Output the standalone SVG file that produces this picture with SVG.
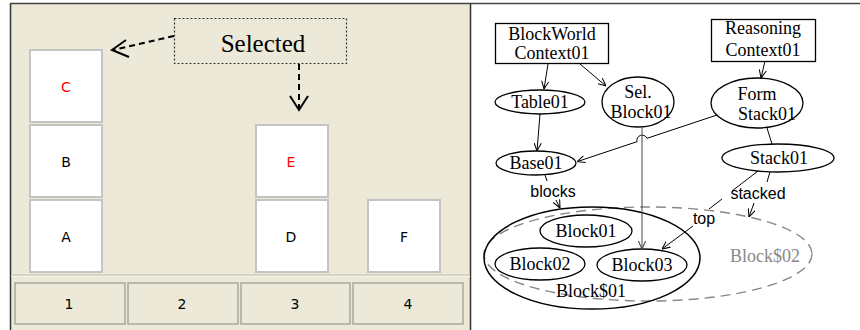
<svg xmlns="http://www.w3.org/2000/svg" width="860" height="330" viewBox="0 0 860 330">
<style>
.blk{fill:#fff;stroke:#c4c4c4;stroke-width:2}
.bl{font-family:"DejaVu Sans",sans-serif;font-size:14px;text-anchor:middle}
.btn{fill:#ECE9D8;stroke:#a8a8a0;stroke-width:1.5}
.nd{fill:#fff;stroke:#000;stroke-width:1.3}
.t{font-family:"Liberation Serif",serif;font-size:18px;text-anchor:middle;fill:#000}
.lab{font-family:"Liberation Sans",sans-serif;font-size:16px;text-anchor:middle;fill:#000}
.e{fill:none;stroke:#000;stroke-width:1}
.sel{fill:none;stroke:#000;stroke-width:2;stroke-dasharray:6,4}
</style>
<defs>
<marker id="ah" viewBox="0 0 10 10" refX="10" refY="5" markerWidth="8" markerHeight="8" orient="auto" markerUnits="userSpaceOnUse">
<path d="M0,0.5 L10,5 L0,9.5" fill="none" stroke="#000" stroke-width="1.3"/>
</marker>
<marker id="ahg" viewBox="0 0 10 10" refX="10" refY="5" markerWidth="8" markerHeight="8" orient="auto" markerUnits="userSpaceOnUse">
<path d="M0,0.5 L10,5 L0,9.5" fill="none" stroke="#444" stroke-width="1.3"/>
</marker>
</defs>

<!-- Left panel -->
<g id="left-panel">
<rect x="10" y="3" width="460" height="327" fill="#ECE9D8"/>
<line x1="10.5" y1="3" x2="10.5" y2="330" stroke="#333" stroke-width="1.5"/>
<line x1="470.5" y1="3" x2="470.5" y2="330" stroke="#333" stroke-width="1.5"/>
<line x1="10" y1="3.5" x2="860" y2="3.5" stroke="#444" stroke-width="1.5"/>
<line x1="11" y1="275" x2="470" y2="275" stroke="#d0cdc0" stroke-width="1.5"/>
<line x1="11" y1="276.5" x2="470" y2="276.5" stroke="#f6f4ec" stroke-width="1"/>
</g>

<g id="block-C"><rect class="blk" x="30" y="50" width="72" height="72"/><text class="bl" x="66" y="92" fill="#f00">C</text></g>
<g id="block-B"><rect class="blk" x="30" y="125" width="72" height="72"/><text class="bl" x="66" y="167">B</text></g>
<g id="block-A"><rect class="blk" x="30" y="200" width="72" height="72"/><text class="bl" x="66" y="242">A</text></g>
<g id="block-E"><rect class="blk" x="256" y="125" width="72" height="72"/><text class="bl" x="291" y="167" fill="#f00">E</text></g>
<g id="block-D"><rect class="blk" x="256" y="200" width="72" height="72"/><text class="bl" x="291" y="242">D</text></g>
<g id="block-F"><rect class="blk" x="368" y="200" width="72" height="72"/><text class="bl" x="404" y="242">F</text></g>

<g id="btn-1"><rect class="btn" x="15" y="283" width="110" height="41"/><text class="bl" x="69" y="309">1</text></g>
<g id="btn-2"><rect class="btn" x="128" y="283" width="110" height="41"/><text class="bl" x="182" y="309">2</text></g>
<g id="btn-3"><rect class="btn" x="241" y="283" width="109" height="41"/><text class="bl" x="295" y="309">3</text></g>
<g id="btn-4"><rect class="btn" x="353" y="283" width="110" height="41"/><text class="bl" x="408" y="309">4</text></g>

<g id="selected">
<rect x="174.5" y="18.5" width="172" height="45" fill="none" stroke="#333" stroke-width="1.2" stroke-dasharray="2,2"/>
<text x="263" y="52" font-family="Liberation Serif, serif" font-size="25" text-anchor="middle">Selected</text>
</g>

<g id="selected-connectors">
<path class="sel" d="M174,36 L113,50"/>
<path d="M126,40 L112,50 L129,57" fill="none" stroke="#000" stroke-width="2"/>
<path class="sel" d="M299,64 L299,109"/>
<path d="M290,96 L299,110 L308,96" fill="none" stroke="#000" stroke-width="2"/>
</g>

<!-- Right panel -->
<g id="Block02set">
<ellipse cx="648" cy="254" rx="164" ry="47" fill="none" stroke="#888" stroke-width="1.4" stroke-dasharray="10,6"/>
<text class="t" x="765" y="262" style="fill:#888">Block$02</text>
</g>
<g id="Block01set">
<ellipse cx="592" cy="258" rx="108" ry="51" fill="none" stroke="#000" stroke-width="1.5"/>
<text class="t" x="591" y="297">Block$01</text>
</g>

<g id="BlockWorldContext01">
<rect x="495.5" y="23.5" width="113" height="40" fill="#fff" stroke="#000" stroke-width="1.3"/>
<text class="t" x="552" y="40">BlockWorld</text>
<text class="t" x="552" y="59">Context01</text>
</g>
<g id="ReasoningContext01">
<rect x="711.5" y="19.5" width="104" height="42" fill="#fff" stroke="#000" stroke-width="1.3"/>
<text class="t" x="763" y="34">Reasoning</text>
<text class="t" x="763" y="56">Context01</text>
</g>
<g id="Table01"><ellipse class="nd" cx="540" cy="102" rx="45" ry="12"/><text class="t" x="540" y="108">Table01</text></g>
<g id="SelBlock01"><ellipse class="nd" cx="638" cy="102" rx="36" ry="25"/><text class="t" x="638" y="98">Sel.</text><text class="t" x="641" y="118">Block01</text></g>
<g id="FormStack01"><ellipse class="nd" cx="757" cy="103" rx="46" ry="25"/><text class="t" x="757" y="100">Form</text><text class="t" x="767" y="120">Stack01</text></g>
<g id="Base01"><ellipse class="nd" cx="536" cy="163" rx="40" ry="12"/><text class="t" x="536" y="169">Base01</text></g>
<g id="Stack01"><ellipse class="nd" cx="778" cy="158" rx="56" ry="14"/><text class="t" x="779" y="164">Stack01</text></g>
<g id="Block01"><ellipse class="nd" cx="586" cy="231" rx="46" ry="16"/><text class="t" x="586" y="237">Block01</text></g>
<g id="Block02"><ellipse class="nd" cx="540" cy="264" rx="45" ry="16"/><text class="t" x="540" y="270">Block02</text></g>
<g id="Block03"><ellipse class="nd" cx="642" cy="265" rx="45" ry="16"/><text class="t" x="642" y="271">Block03</text></g>

<g id="connectors">
<path class="e" d="M548,64 L544,89" marker-end="url(#ah)"/>
<path class="e" d="M580,64 L606,86" marker-end="url(#ah)"/>
<path class="e" d="M540,114 L537,151" marker-end="url(#ah)"/>
<path class="e" d="M765,61 L761,78" marker-end="url(#ah)"/>
<path class="e" d="M767,128 L772,144"/>
<path class="e" d="M717,115 L647,138.3 A5.3,5.3 0 0 0 637,141.7 L577,161.7" marker-end="url(#ah)"/>
<path d="M642,127 L642,249" fill="none" stroke="#444" stroke-width="1" marker-end="url(#ahg)"/>
<path class="e" d="M545,175 L547,181"/>
<text class="lab" x="553" y="197">blocks</text>
<path class="e" d="M556,200 L560,208" marker-end="url(#ah)"/>
<path class="e" d="M770,172 L767,182"/>
<text class="lab" x="758" y="199">stacked</text>
<path class="e" d="M754,203 L749,217" marker-end="url(#ah)"/>
<path class="e" d="M758,171 L732,191"/>
<path class="e" d="M722,199 L709,209"/>
<text class="lab" x="704" y="224">top</text>
<path class="e" d="M693,226 L662,249" marker-end="url(#ah)"/>
</g>
</svg>
